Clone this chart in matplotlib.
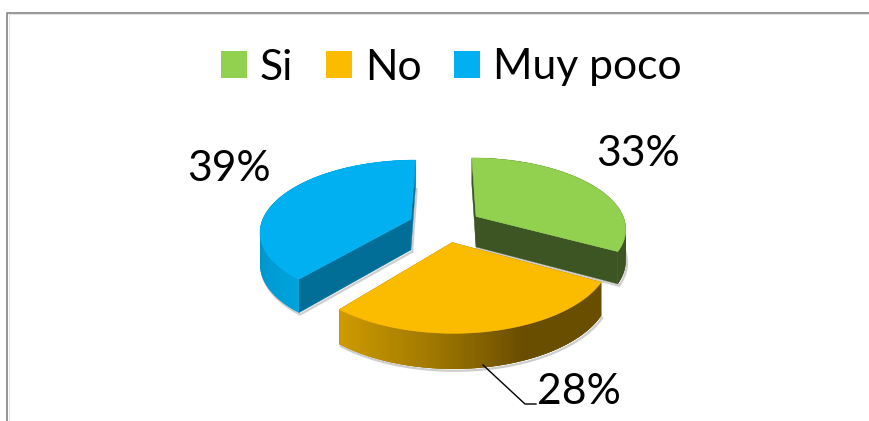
import numpy as np
import matplotlib
matplotlib.use('Agg')
import matplotlib.pyplot as plt
from matplotlib.patches import Patch, Polygon
from matplotlib.colors import to_rgb

# donnees du graphique
categories = ['Si', 'No', 'Muy poco']
percent = [33, 28, 39]
percent_text = ['33%', '28%', '39%']
top_colors = ['#92D050', '#FBBC00', '#00B0F0']
cut_colors = ['#3D5423', '#7A5C00', '#006E96']

plt.rcParams['font.family'] = ['Lato', 'DejaVu Sans']

# reglages de la vue 3D (en pixels)
CX, CY = 445, 225
SX, SY = 150, 70.2
PERSP = 0.158
DEPTH = 31
EXPLODE = 0.245
FONT = 30.7


def project(x, f):
    d = 1 - f * PERSP
    return CX + SX * x / d, CY + SY * f / d


def lerp_colors(stops, t):
    ts = [s[0] for s in stops]
    rgb = np.array([to_rgb(s[1]) for s in stops])
    return [np.interp(t, ts, rgb[:, i]) for i in range(3)]


# degrade du cote exterieur selon l'angle (degres depuis le haut)
side_stops = [
    [(0, '#3D5423'), (360, '#3D5423')],
    [(118, '#6A4E00'), (158, '#6A4E00'), (190, '#A67D00'), (220, '#D09C00')],
    [(219, '#00A3DD'), (265, '#0092C8'), (290, '#0092C8'), (360, '#0092C8')],
]

fig = plt.figure(figsize=(8.7, 4.21), dpi=100)
ax = fig.add_axes([0, 0, 1, 1])
ax.set_xlim(0, 870)
ax.set_ylim(421, 0)
ax.axis('off')

# cadre
ax.plot([7.5, 7.5, 870], [421, 12.5, 12.5], color='#8C8C8C', lw=1.3)
ax.plot([9, 9, 870], [421, 14, 14], color='#E4E4E4', lw=0.8)

# angles des parts
edges = np.cumsum([0] + percent) * 3.6
slices = []
for i in range(len(percent)):
    a0, a1 = edges[i], edges[i + 1]
    mid = np.radians((a0 + a1) / 2)
    ox, of = EXPLODE * np.sin(mid), -EXPLODE * np.cos(mid)
    slices.append((i, a0, a1, ox, of))

# ordre de dessin : du fond vers l'avant
for i, a0, a1, ox, of in sorted(slices, key=lambda s: s[4]):
    ang = np.arange(a0, a1 + 1.0, 1.0)
    ang[-1] = a1
    rad = np.radians(ang)
    xs = ox + np.sin(rad)
    fs = of - np.cos(rad)
    px, py = project(xs, fs)
    ax_, ay_ = project(ox, of)
    dy = DEPTH * (1 + 0.12 * fs)
    d0 = DEPTH * (1 + 0.12 * of)

    # ombre sous la part
    ax.plot(np.r_[ax_, px, ax_] + 1.2, np.r_[ay_ + d0, py + dy, ay_ + d0] + 1.8,
            color='#B8B8B8', lw=1.6, alpha=0.7, zorder=2 + of)

    z = 3 + of
    # faces de coupe
    ax.add_patch(Polygon([(ax_, ay_), (px[0], py[0]), (px[0], py[0] + dy[0]), (ax_, ay_ + d0)],
                         fc=cut_colors[i], ec=cut_colors[i], lw=0.3, zorder=z))
    ax.add_patch(Polygon([(ax_, ay_), (px[-1], py[-1]), (px[-1], py[-1] + dy[-1]), (ax_, ay_ + d0)],
                         fc=cut_colors[i], ec=cut_colors[i], lw=0.3, zorder=z))
    # cote exterieur : bandes qui se recouvrent pour eviter les raies
    stops = side_stops[i]
    for k in range(len(ang) - 1):
        c = lerp_colors(stops, (ang[k] + ang[k + 1]) / 2)
        k2 = min(k + 3, len(ang) - 1)
        ax.add_patch(Polygon([(px[k], py[k]), (px[k2], py[k2]),
                              (px[k2], py[k2] + dy[k2]), (px[k], py[k] + dy[k])],
                             fc=c, ec='none', zorder=z + 0.01 + k * 1e-4))
    # dessus
    ax.add_patch(Polygon(np.c_[np.r_[ax_, px], np.r_[ay_, py]],
                         fc=top_colors[i], ec=top_colors[i], lw=0.4, zorder=z + 0.1))

# etiquettes
label_pos = [(638, 166), (579, 404), (229, 181)]
for (lx, ly), txt in zip(label_pos, percent_text):
    ax.text(lx, ly, txt, fontsize=FONT, ha='center', va='baseline', color='black', zorder=20)
ax.plot([483, 525, 536], [365, 404, 404], color='black', lw=1.0, zorder=20)

# legende
handles = [Patch(fc=c, ec='none') for c in top_colors]
ax.legend(handles, categories, ncols=3, frameon=False, fontsize=FONT,
          loc='center', bbox_to_anchor=(451.5 / 870, 1 - 67.5 / 421),
          handlelength=0.61, handleheight=0.61, handletextpad=0.305,
          columnspacing=0.77, borderpad=0, labelcolor='black')

fig.savefig('out.png', dpi=100)
